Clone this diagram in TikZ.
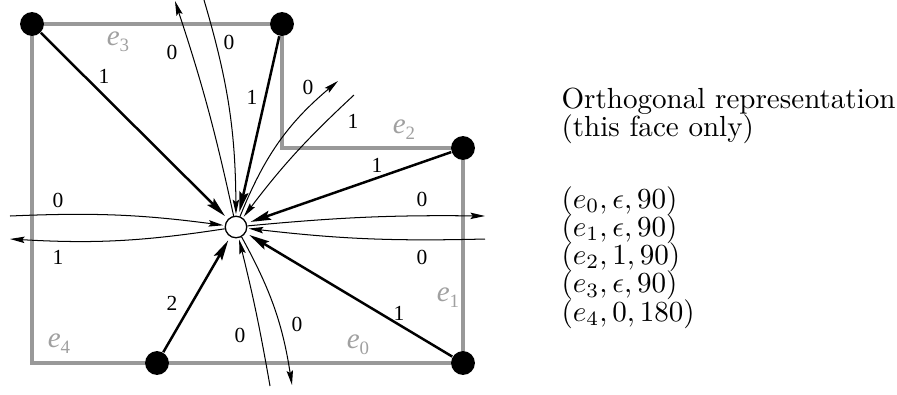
\documentclass[tikz,border=0pt]{standalone}
\usepackage{fontspec}
\newfontfamily\timesf{Liberation Serif}
\usetikzlibrary{arrows.meta}
\definecolor{facegray}{RGB}{153,153,153}
\definecolor{labgray}{RGB}{160,160,160}
\begin{document}
\begin{tikzpicture}[x=0.344pt,y=-0.344pt,
  face/.style={draw=facegray,line width=1.05pt},
  vtx/.style={circle,fill=black,inner sep=0pt,minimum size=8.2pt},
  ctr/.style={circle,draw=black,fill=white,line width=0.45pt,inner sep=0pt,minimum size=7.4pt},
  tharrow/.style={line width=0.85pt,-{Stealth[length=7pt,width=3.2pt,inset=1.2pt]},shorten >=1.4pt},
  tnarrow/.style={line width=0.35pt,-{Stealth[length=5pt,width=2.2pt,inset=0.8pt]}},
  tnin/.style={tnarrow,shorten >=0.5pt},
  lbl/.style={font=\timesf\fontsize{7.4}{8}\selectfont,inner sep=0pt},
  elbl/.style={text=labgray,font=\timesf\fontsize{10}{12}\selectfont,inner sep=0pt},
  txt/.style={anchor=base west,inner sep=0pt,font=\fontsize{10}{12}\selectfont}]
\useasboundingbox (0,0) rectangle (897,394);
% face outline corners
\coordinate (ptl) at (32,24);
\coordinate (ptr) at (282,24);
\coordinate (pic) at (282,148);
\coordinate (pr) at (463,148);
\coordinate (pbr) at (463,363);
\coordinate (pbl) at (32,363);
\draw[face] (ptl) -- (ptr) -- (pic) -- (pr) -- (pbr) -- (pbl) -- cycle;
% vertices
\node[vtx] (tl) at (ptl) {};
\node[vtx] (tr) at (ptr) {};
\node[vtx] (r) at (pr) {};
\node[vtx] (br) at (pbr) {};
\node[vtx] (bm) at (157,363) {};
\node[ctr] (c) at (236,227) {};
% thick arrows
\draw[tharrow] (tl) -- (c);
\draw[tharrow] (tr) -- (c);
\draw[tharrow] (r) -- (c);
\draw[tharrow] (br) -- (c);
\draw[tharrow] (bm) -- (c);
% free ends of thin connectors
\coordinate (topout) at (175,1);
\coordinate (topin) at (204,0);
\coordinate (trout) at (338,81);
\coordinate (trin) at (354,95);
\coordinate (rout) at (485,216);
\coordinate (rin) at (485,239);
\coordinate (lin) at (10,216);
\coordinate (lout) at (10,239);
\coordinate (bin) at (270,386);
\coordinate (bout) at (292,385);
% thin connectors
\draw[tnarrow] (c) to[bend right=3] (topout);
\draw[tnin] (topin) to[bend left=8] (c);
\draw[tnarrow] (c) to[bend left=14] (trout);
\draw[tnin] (trin) to[bend right=5] (c);
\draw[tnarrow] (c) to[bend left=3] (rout);
\draw[tnin] (rin) to[bend left=4] (c);
\draw[tnin] (lin) to[bend left=5] (c);
\draw[tnarrow] (c) to[bend left=6] (lout);
\draw[tnin] (bin) to[bend right=2] (c);
\draw[tnarrow] (c) to[bend left=10] (bout);
% labels
\node[lbl] at (104,76) {1};
\node[lbl] at (252,97) {1};
\node[lbl] at (377,165) {1};
\node[lbl] at (399,313) {1};
\node[lbl] at (172,303) {2};
\node[lbl] at (172,52) {0};
\node[lbl] at (229,42) {0};
\node[lbl] at (308,87) {0};
\node[lbl] at (353,121) {1};
\node[lbl] at (422,199) {0};
\node[lbl] at (422,257) {0};
\node[lbl] at (58,200) {0};
\node[lbl] at (58,257) {1};
\node[lbl] at (240,335) {0};
\node[lbl] at (297,324) {0};
% edge names
\node[elbl] at (118,42) {\textit{e}\raisebox{-0.45ex}{\fontsize{6.5}{7}\selectfont 3}};
\node[elbl] at (404,130) {\textit{e}\raisebox{-0.45ex}{\fontsize{6.5}{7}\selectfont 2}};
\node[elbl] at (448,298) {\textit{e}\raisebox{-0.45ex}{\fontsize{6.5}{7}\selectfont 1}};
\node[elbl] at (358,345) {\textit{e}\raisebox{-0.45ex}{\fontsize{6.5}{7}\selectfont 0}};
\node[elbl] at (59,344) {\textit{e}\raisebox{-0.45ex}{\fontsize{6.5}{7}\selectfont 4}};
% right-hand text
\node[txt] (t1) at (561,108) {Orthogonal representation};
\node[txt] (t2) at (561,136) {(this face only)};
\node[txt] (m0) at (561,208) {$(e_0,\epsilon,90)$};
\node[txt] (m1) at (561,236.3) {$(e_1,\epsilon,90)$};
\node[txt] (m2) at (561,264.6) {$(e_2,1,90)$};
\node[txt] (m3) at (561,292.9) {$(e_3,\epsilon,90)$};
\node[txt] (m4) at (561,321.2) {$(e_4,0,180)$};
\end{tikzpicture}
\end{document}
